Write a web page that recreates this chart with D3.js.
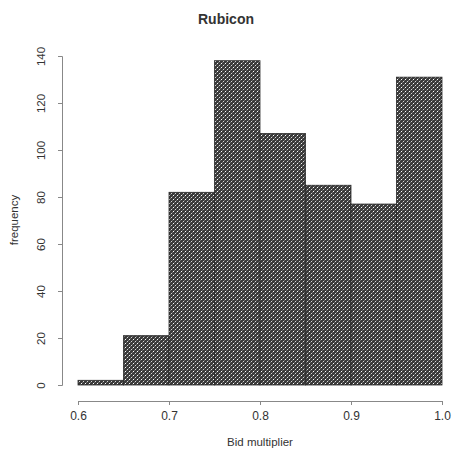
<!DOCTYPE html>
<html>
<head>
<meta charset="utf-8">
<script src="https://cdn.jsdelivr.net/npm/d3@7"></script>
<style>
  body { margin: 0; background: #fff; }
  text { font-family: "Liberation Sans", Arial, sans-serif; fill: #333; }
</style>
</head>
<body>
<div id="chart"></div>
<script>
// histogram bins (left edge, right edge) and counts
var binStarts = [0.6, 0.65, 0.7, 0.75, 0.8, 0.85, 0.9, 0.95];
var binEnds   = [0.65, 0.7, 0.75, 0.8, 0.85, 0.9, 0.95, 1.0];
var counts    = [2, 21, 82, 138, 107, 85, 77, 131];
var xTicks = [0.6, 0.7, 0.8, 0.9, 1.0];
var yTicks = [0, 20, 40, 60, 80, 100, 120, 140];

var width = 453, height = 462;

var x = d3.scaleLinear().domain([0.6, 1.0]).range([78, 442]);
var y = d3.scaleLinear().domain([0, 140]).range([385, 56]);

var svg = d3.select("#chart").append("svg")
    .attr("width", width)
    .attr("height", height);

// dotted fill like the original
var defs = svg.append("defs");
var pat = defs.append("pattern")
    .attr("id", "dots")
    .attr("patternUnits", "userSpaceOnUse")
    .attr("width", 4).attr("height", 4);
pat.append("rect").attr("width", 4).attr("height", 4).attr("fill", "#3a3a3a");
pat.append("rect").attr("x", 0).attr("y", 0).attr("width", 1).attr("height", 1).attr("fill", "#707070");
pat.append("rect").attr("x", 2).attr("y", 2).attr("width", 1).attr("height", 1).attr("fill", "#707070");
pat.append("rect").attr("x", 1).attr("y", 3).attr("width", 1).attr("height", 1).attr("fill", "#ffffff");
pat.append("rect").attr("x", 3).attr("y", 1).attr("width", 1).attr("height", 1).attr("fill", "#d5d5d5");

svg.selectAll("rect.bar")
    .data(counts)
    .enter().append("rect")
    .attr("class", "bar")
    .attr("x", function(d, i) { return x(binStarts[i]); })
    .attr("y", function(d) { return y(d); })
    .attr("width", function(d, i) { return x(binEnds[i]) - x(binStarts[i]); })
    .attr("height", function(d) { return y(0) - y(d); })
    .attr("fill", "url(#dots)")
    .attr("stroke", "#2a2a2a")
    .attr("stroke-width", 0.8);

// x axis
var xAxis = svg.append("g")
    .attr("transform", "translate(0,401)")
    .call(d3.axisBottom(x).tickValues(xTicks).tickSize(4).tickPadding(6).tickFormat(d3.format(".1f")));
xAxis.select(".domain").attr("stroke", "#888");
xAxis.selectAll(".tick line").attr("stroke", "#888");
xAxis.selectAll("text").style("font-size", "12px").attr("fill", "#444").style("font-family", "Liberation Sans, Arial, sans-serif");

// y axis
var yAxis = svg.append("g")
    .attr("transform", "translate(62,0)")
    .call(d3.axisLeft(y).tickValues(yTicks).tickSize(4).tickPadding(0));
yAxis.select(".domain").attr("stroke", "#888");
yAxis.selectAll(".tick line").attr("stroke", "#888");
yAxis.selectAll("text")
    .style("font-size", "11.5px")
    .attr("fill", "#444")
    .style("font-family", "Liberation Sans, Arial, sans-serif")
    .attr("text-anchor", "middle")
    .attr("x", 0)
    .attr("dy", 0)
    .attr("transform", "translate(-17,0) rotate(-90)");

// labels
svg.append("text")
    .attr("x", 226).attr("y", 24)
    .attr("text-anchor", "middle")
    .style("font-size", "14px")
    .style("font-weight", "bold")
    .text("Rubicon");

svg.append("text")
    .attr("x", 260).attr("y", 446)
    .attr("text-anchor", "middle")
    .style("font-size", "11.5px")
    .text("Bid multiplier");

svg.append("text")
    .attr("transform", "translate(18,220) rotate(-90)")
    .attr("text-anchor", "middle")
    .style("font-size", "11.5px")
    .text("frequency");
</script>
</body>
</html>
